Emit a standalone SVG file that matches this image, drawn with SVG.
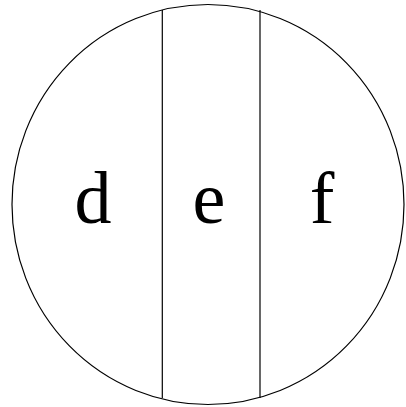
<svg xmlns="http://www.w3.org/2000/svg" width="406" height="407" viewBox="0 0 406 407">
<style>
.ln{fill:none;stroke:#000;stroke-width:1.2}
.lbl{font-family:"Liberation Serif","Times New Roman",serif;font-size:74px;fill:#000;text-anchor:middle}
</style>
<rect width="406" height="407" fill="#fff"/>
<g id="outline"><ellipse class="ln" cx="208" cy="204.5" rx="196" ry="200"/></g>
<g id="connectors">
<line class="ln" x1="162.3" y1="10" x2="162.3" y2="398"/>
<line class="ln" x1="260" y1="10" x2="260" y2="398"/>
</g>
<g id="node-d"><text class="lbl" x="93" y="223">d</text></g>
<g id="node-e"><text class="lbl" x="209" y="223">e</text></g>
<g id="node-f"><text class="lbl" x="322" y="223">f</text></g>
</svg>
